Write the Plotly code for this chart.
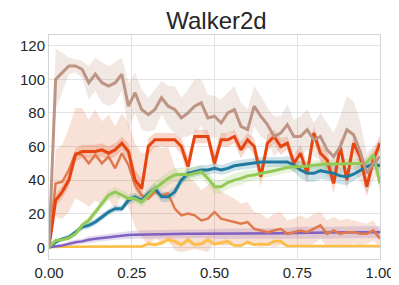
import plotly.graph_objects as go

x = [i * 0.02 for i in range(51)]

brown = [0, 100, 104, 108, 108, 106, 98, 103, 98, 96, 98, 103, 84, 92, 82, 79, 82, 89, 84, 82,
         77, 80, 84, 86, 77, 78, 74, 80, 82, 72, 70, 84, 78, 73, 66, 68, 73, 66, 66, 70,
         64, 66, 58, 54, 60, 70, 67, 57, 44, 50, 54]
brown_sd = [0, 18, 12, 5, 4, 5, 10, 10, 12, 12, 12, 10, 14, 12, 12, 10, 12, 10, 12, 14,
            12, 14, 16, 14, 14, 12, 14, 12, 14, 14, 12, 12, 12, 10, 12, 10, 12, 10, 12, 12,
            10, 14, 16, 14, 18, 20, 20, 18, 12, 10, 10]

red = [0, 28, 33, 40, 55, 57, 57, 57, 58, 56, 58, 62, 57, 40, 35, 60, 64, 64, 64, 64,
       60, 48, 66, 66, 66, 50, 64, 64, 66, 58, 64, 60, 42, 62, 66, 60, 62, 50, 56, 44,
       68, 56, 52, 38, 60, 40, 62, 54, 36, 52, 62]
red_sd = [0, 4, 4, 4, 4, 4, 4, 4, 4, 4, 4, 4, 5, 6, 6, 5, 4, 4, 4, 4,
          5, 6, 4, 4, 4, 6, 4, 4, 4, 5, 4, 5, 6, 5, 4, 5, 4, 5, 5, 6,
          4, 5, 5, 6, 5, 6, 5, 5, 6, 5, 5]

salmon = [0, 38, 39, 46, 56, 55, 50, 55, 50, 54, 47, 56, 49, 37, 31, 29, 33, 31, 32, 23,
          19, 20, 19, 16, 17, 21, 17, 16, 15, 14, 15, 11, 10, 9, 10, 11, 8, 9, 10, 9,
          11, 13, 8, 10, 8, 9, 9, 8, 8, 10, 5]
salmon_sd = [0, 20, 22, 25, 27, 28, 26, 27, 25, 25, 25, 24, 25, 25, 25, 28, 28, 28, 28, 25,
             22, 22, 20, 18, 20, 18, 16, 15, 14, 12, 12, 10, 10, 8, 10, 10, 8, 8, 9, 8,
             9, 8, 8, 8, 8, 8, 7, 7, 6, 6, 5]

blue = [0, 3, 5, 6, 9, 12, 13, 15, 18, 21, 23, 23, 28, 30, 28, 32, 35, 30, 30, 33,
        40, 44, 45, 46, 46, 47, 46, 47, 48.5, 49, 49.6, 50, 50.8, 50.8, 50.8, 50.8, 50.8, 49, 46, 44,
        44, 45.6, 45, 44, 42.5, 42, 43.5, 46, 48, 49.5, 48.5]
blue_sd = [0, 1, 1, 1.5, 1.5, 2, 2, 2, 2, 2, 2, 2, 2.5, 2.5, 2.5, 3, 3, 3, 3, 3,
           3, 3, 3, 3, 3, 3, 3, 3, 3, 3, 3, 3, 3, 3, 3, 3, 3.5, 4, 5, 5,
           5, 5, 5, 5, 5, 5, 4, 4, 3, 3, 3]

green = [0, 4, 4.5, 5.5, 8, 13, 16, 21, 26, 31, 33, 31, 29, 29, 27, 31, 35, 38, 41, 43,
         43.5, 43, 44, 45, 41, 36, 36, 38.5, 40, 41, 42.5, 43, 44, 45, 45.6, 46.5, 47.5, 48, 48, 48.3,
         48.8, 49.3, 49.6, 49.6, 49.6, 49.6, 49.6, 49.8, 50.5, 55, 38]
green_sd = [0, 1, 1, 1.5, 1.5, 2, 2, 2.5, 3, 3, 3, 3, 3, 3, 3, 3.5, 4, 4, 4, 4,
            4, 4, 4, 4, 4, 4, 4, 4, 4, 4, 3.5, 3.5, 3.5, 3.5, 3, 3, 3, 3, 3, 3,
            3, 3, 3, 3, 3, 3, 3, 3, 3, 4, 6]

purple = [0, 0.5, 1, 2, 3, 3.5, 4.5, 5, 5.5, 6, 6.5, 7, 7.3, 7.5, 7.6, 7.7, 7.8, 8, 8, 8,
          8, 8, 8, 8, 8, 8, 8, 8, 8, 8, 8, 8.1, 8.1, 8.2, 8.2, 8.3, 8.4, 8.5, 8.5, 8.6,
          8.7, 8.7, 8.8, 8.8, 8.9, 8.9, 9, 9, 9, 9, 9]
purple_sd = [0, 1, 1, 1.5, 1.5, 1.5, 2, 2, 2, 2, 2, 2, 2.5, 2.5, 2.5, 2.5, 2.5, 2.5, 2.5, 2.5,
             2.5, 2.5, 2.5, 2.5, 2.5, 3, 3, 3, 3, 3, 3, 3, 3, 3, 3, 3, 3, 3.5, 3.5, 3.5,
             3.5, 3.5, 3.5, 3.5, 3.5, 3.5, 3.5, 3.5, 3.5, 3.5, 3.5]

yellow = [0, 0.3, 0.3, 0.3, 0.4, 0.4, 0.4, 0.4, 0.5, 0.5, 0.5, 0.5, 0.5, 0.5, 0.5, 2, 1.5, 2.5, 4.5, 3.5,
          1.5, 4.5, 1.5, 2, 4.5, 1.8, 2.5, 3.5, 1, 1, 3, 1.5, 2, 1.5, 3.5, 3.5, 0.8, 0.8, 0.8, 0.8,
          0.8, 0.8, 0.8, 0.8, 0.8, 0.8, 0.8, 0.8, 0.8, 0.8, 0.8]
yellow_sd = [0, 0.5, 0.5, 0.5, 0.5, 0.5, 0.5, 0.5, 0.5, 0.5, 0.5, 0.5, 0.5, 0.5, 0.5, 1.5, 1.5, 1.5, 2, 2,
             1.5, 2, 1.5, 1.5, 2, 1.5, 1.5, 2, 1, 1, 1.5, 1, 1, 1, 1.5, 1.5, 0.5, 0.5, 0.5, 0.5,
             0.5, 0.5, 0.5, 0.5, 0.5, 0.5, 0.5, 0.5, 0.5, 0.5, 0.5]

series = [
    ("yellow", yellow, yellow_sd, (251, 189, 66), 2.5),
    ("purple", purple, purple_sd, (128, 96, 192), 2.5),
    ("salmon", salmon, salmon_sd, (224, 121, 77), 2.5),
    ("red", red, red_sd, (230, 69, 15), 3),
    ("blue", blue, blue_sd, (31, 122, 158), 3),
    ("green", green, green_sd, (147, 201, 86), 3),
    ("brown", brown, brown_sd, (190, 148, 132), 3),
]

fig = go.Figure()
for name, ys, sd, c, w in series:
    up = [a + b for a, b in zip(ys, sd)]
    lo = [a - b for a, b in zip(ys, sd)]
    fig.add_trace(go.Scatter(
        x=x + x[::-1], y=up + lo[::-1], fill="toself", mode="lines",
        line=dict(width=0), fillcolor="rgba(%d,%d,%d,0.22)" % c,
        hoverinfo="skip", showlegend=False))
for name, ys, sd, c, w in series:
    fig.add_trace(go.Scatter(
        x=x, y=ys, mode="lines", name=name,
        line=dict(color="rgb(%d,%d,%d)" % c, width=w), showlegend=False))

axis_common = dict(
    showgrid=True, gridcolor="#e2e2e2", gridwidth=1,
    showline=True, linecolor="#d4d4d4", linewidth=1, mirror=True,
    zeroline=False, ticks="",
    tickfont=dict(family="Liberation Sans, Arial, sans-serif", size=15, color="#262626"),
)

fig.update_layout(
    width=399, height=285,
    margin=dict(l=39, r=21, t=27, b=27),
    paper_bgcolor="white", plot_bgcolor="white",
    title=dict(text="Walker2d", x=0.5225, xanchor="center", y=0.985, yanchor="top",
               font=dict(family="Liberation Sans, Arial, sans-serif", size=24, color="#262626")),
    xaxis=dict(range=[0, 1], tickvals=[0, 0.25, 0.5, 0.75, 1.0],
               ticktext=["0.00", "0.25", "0.50", "0.75", "1.00"], **axis_common),
    yaxis=dict(range=[-7, 126.4], tickvals=[0, 20, 40, 60, 80, 100, 120], **axis_common),
)

fig.write_html("out.html")
